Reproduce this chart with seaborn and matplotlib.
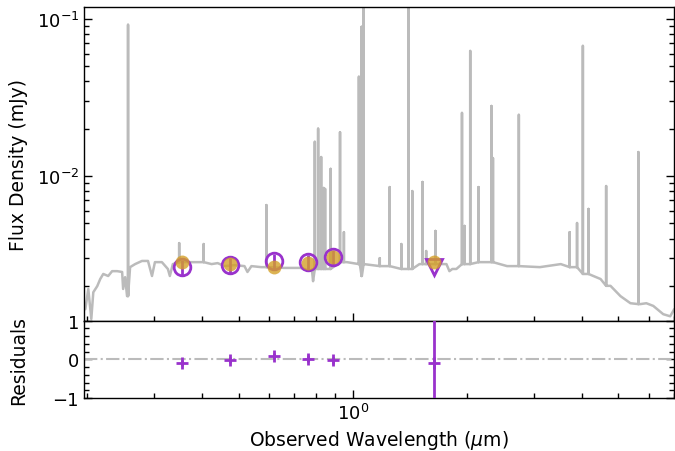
import matplotlib
matplotlib.use("Agg")
import matplotlib.pyplot as plt
import numpy as np
import pandas as pd
import seaborn as sns
from matplotlib.ticker import MultipleLocator, LogLocator

# continuum of the model spectrum (um, mJy)
cont_wave = [0.1976, 0.2012, 0.2049, 0.2074, 0.2124, 0.2163, 0.2203, 0.2270, 0.2325, 0.2396,
             0.2470, 0.2485, 0.2515, 0.2545, 0.2592, 0.2672, 0.2786, 0.2889, 0.2960, 0.3013,
             0.3143, 0.3259, 0.3298, 0.3358, 0.3546, 0.3765, 0.3999, 0.4248, 0.4406, 0.4596,
             0.4881, 0.5184, 0.5279, 0.5407, 0.5742, 0.6099, 0.6597, 0.7267, 0.7809, 0.7856,
             0.8000, 0.9645, 1.043, 1.056, 1.069, 1.177, 1.385, 1.497, 1.763, 1.795,
             1.827, 1.872, 1.988, 2.150, 2.546, 3.105, 3.525, 3.744, 4.049, 4.486,
             4.764, 5.061, 5.376, 5.708, 5.920, 6.175, 6.558, 6.841, 7.008]
cont_flux = [1.42e-3, 1.91e-3, 1.23e-3, 1.82e-3, 1.99e-3, 2.21e-3, 2.38e-3, 2.31e-3, 2.48e-3, 2.48e-3,
             2.45e-3, 1.91e-3, 2.27e-3, 1.72e-3, 2.63e-3, 2.75e-3, 2.88e-3, 2.88e-3, 2.31e-3, 2.83e-3,
             2.83e-3, 2.56e-3, 2.31e-3, 2.75e-3, 2.83e-3, 2.83e-3, 2.83e-3, 2.75e-3, 2.79e-3, 2.67e-3,
             2.71e-3, 2.67e-3, 2.45e-3, 2.67e-3, 2.63e-3, 2.63e-3, 2.60e-3, 2.60e-3, 2.48e-3, 2.14e-3,
             2.56e-3, 2.83e-3, 2.75e-3, 2.31e-3, 2.75e-3, 2.67e-3, 2.56e-3, 2.75e-3, 2.75e-3, 2.48e-3,
             2.56e-3, 2.56e-3, 2.75e-3, 2.83e-3, 2.67e-3, 2.63e-3, 2.75e-3, 2.63e-3, 2.38e-3, 2.21e-3,
             2.00e-3, 1.72e-3, 1.55e-3, 1.53e-3, 1.55e-3, 1.49e-3, 1.32e-3, 1.28e-3, 1.42e-3]

# emission lines (um, peak mJy)
line_wave = [0.256, 0.349, 0.405, 0.592, 0.794, 0.810, 0.825, 0.838, 0.845, 0.874,
             0.925, 0.947, 1.037, 1.054, 1.067, 1.177, 1.250, 1.341, 1.400, 1.433,
             1.525, 1.559, 1.649, 1.937, 1.968, 2.036, 2.141, 2.315, 2.337, 2.734,
             3.72, 3.89, 4.03, 4.17, 4.64, 5.64]
line_peak = [0.0917, 3.74e-3, 3.69e-3, 6.53e-3, 0.0165, 0.020, 0.0132, 8.39e-3, 8.27e-3, 0.0111,
             0.019, 4.39e-3, 0.0428, 0.089, 0.3, 3.0e-3, 8.5e-3, 3.69e-3, 0.3, 8.02e-3,
             9.16e-3, 3.33e-3, 4.47e-3, 0.0252, 4.81e-3, 0.0625, 8.5e-3, 0.0279, 0.013, 0.0245,
             4.39e-3, 5.02e-3, 0.0673, 6.17e-3, 8.63e-3, 0.0142]

# photometry
phot_wave = [0.355, 0.475, 0.620, 0.763, 0.885]
phot_obs = [2.62e-3, 2.71e-3, 2.89e-3, 2.84e-3, 3.06e-3]
phot_err = [0.30e-3, 0.30e-3, 0.32e-3, 0.30e-3, 0.33e-3]
phot_model = [2.82e-3, 2.75e-3, 2.64e-3, 2.78e-3, 3.06e-3]
ulim_wave = [1.63]
ulim_flux = [2.62e-3]
ulim_model = [2.84e-3]

resid_wave = phot_wave + ulim_wave
resid_val = [-0.09, -0.01, 0.09, 0.02, -0.03, -0.09]
resid_err = [0.08, 0.08, 0.08, 0.08, 0.08, 5.0]

purple = '#9932CC'
orange = '#D4A028'
grey = '#bbbbbb'

# build spectrum polyline: continuum with spikes at line positions
cw = np.array(cont_wave)
cf = np.array(cont_flux)
xs, ys = list(cw), list(cf)
for w, p in zip(line_wave, line_peak):
    base = cf[np.argmin(np.abs(cw - w))]
    xs += [w, w, w]
    ys += [base, p, base]
order = np.argsort(np.array(xs), kind='stable')
spec = pd.DataFrame({'wave': np.array(xs)[order], 'flux': np.array(ys)[order]})

sns.set_style('ticks')
plt.rcParams['font.family'] = ['DejaVu Sans']
plt.rcParams['font.size'] = 13
plt.rcParams['text.color'] = 'black'
plt.rcParams['axes.labelcolor'] = 'black'
plt.rcParams['xtick.color'] = 'black'
plt.rcParams['ytick.color'] = 'black'
plt.rcParams['xtick.minor.visible'] = True
plt.rcParams['ytick.minor.visible'] = True

fig = plt.figure(figsize=(6.75, 4.52), dpi=100)
ax = fig.add_axes([0.1244, 0.2883, 0.8741, 0.6940])
rax = fig.add_axes([0.1244, 0.1173, 0.8741, 0.1710], sharex=ax)

sns.lineplot(data=spec, x='wave', y='flux', ax=ax, color=grey, lw=1.8,
             sort=False, estimator=None)
ax.errorbar(phot_wave, phot_obs, yerr=phot_err, fmt='o', ms=12, mfc='none',
            mec=purple, mew=2, ecolor=purple, elinewidth=2, zorder=3)
ax.plot(ulim_wave, ulim_flux, 'v', ms=12, mfc='none', mec=purple, mew=2, zorder=3)
ax.plot(phot_wave + ulim_wave, phot_model + ulim_model, 'o', ms=10, color=orange,
        alpha=0.8, zorder=4, mec='none')

ax.set_xscale('log')
ax.set_yscale('log')
ax.set_xlim(0.196, 7.0)
ax.set_ylim(1.2e-3, 0.119)
ax.set_xlabel('')
ax.set_ylabel('Flux Density (mJy)', fontsize=13.5)
ax.yaxis.set_label_coords(-0.095, 0.5)
ax.tick_params(axis='x', which='both', labelbottom=False)

rax.axhline(0, color=grey, ls='-.', lw=1.5, zorder=1)
rax.errorbar(resid_wave, resid_val, yerr=resid_err, fmt='+', ms=8, mew=2,
             color=purple, elinewidth=2, zorder=3)
rax.set_ylim(-1, 1)
rax.set_ylabel('Residuals', fontsize=13.5)
rax.yaxis.set_label_coords(-0.095, 0.5)
rax.set_xlabel(r'Observed Wavelength ($\mu$m)', fontsize=13.5)

ax.xaxis.set_minor_locator(LogLocator(base=10, subs=np.arange(2, 10), numticks=50))
ax.yaxis.set_minor_locator(LogLocator(base=10, subs=np.arange(2, 10), numticks=50))
rax.yaxis.set_major_locator(MultipleLocator(1))
rax.yaxis.set_minor_locator(MultipleLocator(0.2))

for a in (ax, rax):
    a.tick_params(which='both', direction='in', right=True, top=False, labelsize=13)
    a.tick_params(which='major', length=6, width=1)
    a.tick_params(which='minor', length=3.5, width=1, color='black')
    for s in a.spines.values():
        s.set_linewidth(1.0)
        s.set_color('black')

fig.savefig('out.png', dpi=100)
